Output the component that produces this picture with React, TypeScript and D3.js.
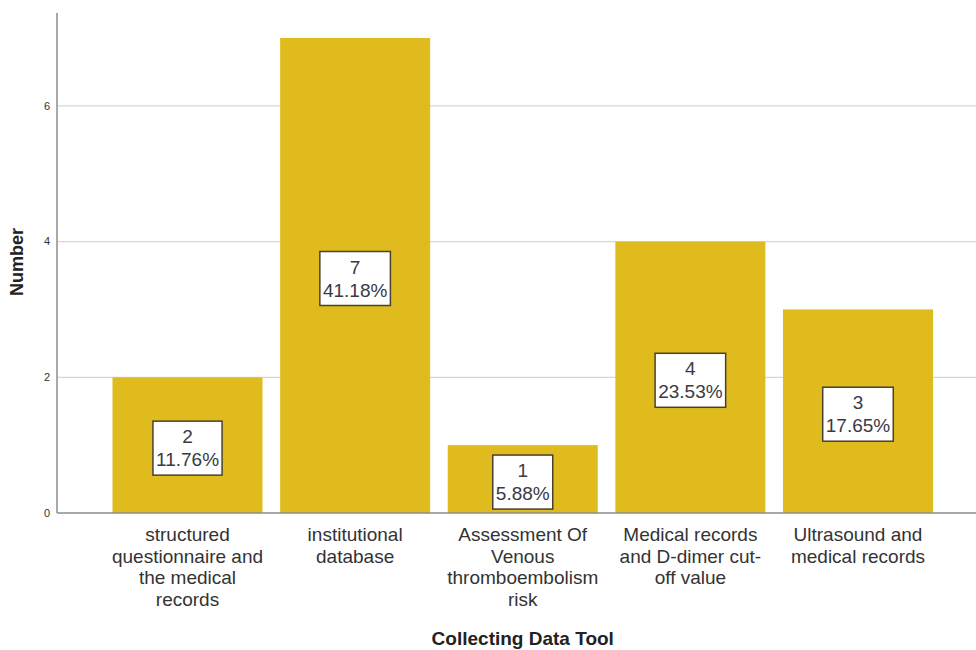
import React, { useEffect, useRef } from "react";
import * as d3 from "d3";

// Category labels (line breaks as they wrap under each bar)
const categories: string[] = [
  "structured\nquestionnaire and\nthe medical\nrecords",
  "institutional\ndatabase",
  "Assessment Of\nVenous\nthromboembolism\nrisk",
  "Medical records\nand D-dimer cut-\noff value",
  "Ultrasound and\nmedical records",
];
const counts: number[] = [2, 7, 1, 4, 3];
const yTicks: number[] = [0, 2, 4, 6];
const xTitle = "Collecting Data Tool";
const yTitle = "Number";

const W = 976;
const H = 650;
const BAR = "#e0bb1e";
const FONT = "Arial, 'Liberation Sans', sans-serif";

export default function App() {
  const ref = useRef<SVGSVGElement | null>(null);

  useEffect(() => {
    const svg = d3.select(ref.current);
    svg.selectAll("*").remove();

    const axisX = 57;
    const x = d3
      .scaleBand<number>()
      .domain(d3.range(categories.length))
      .range([103.7, 941.8])
      .paddingInner(0.105)
      .paddingOuter(0.0525);
    const y = d3.scaleLinear().domain([0, 7]).range([513, 38]);
    const total = d3.sum(counts);

    // gridlines
    svg
      .append("g")
      .selectAll("line")
      .data(yTicks.filter((t) => t > 0))
      .join("line")
      .attr("x1", axisX)
      .attr("x2", W)
      .attr("y1", (d) => y(d))
      .attr("y2", (d) => y(d))
      .attr("stroke", "#d6d6d6")
      .attr("stroke-width", 1.3);

    // bars
    svg
      .append("g")
      .selectAll("rect")
      .data(counts)
      .join("rect")
      .attr("x", (_, i) => x(i)!)
      .attr("width", x.bandwidth())
      .attr("y", (d) => y(d))
      .attr("height", (d) => y(0) - y(d))
      .attr("fill", BAR);

    // axes lines
    svg
      .append("line")
      .attr("x1", axisX)
      .attr("x2", W)
      .attr("y1", y(0))
      .attr("y2", y(0))
      .attr("stroke", "#8c8c8c")
      .attr("stroke-width", 1.5);
    svg
      .append("line")
      .attr("x1", axisX)
      .attr("x2", axisX)
      .attr("y1", 13)
      .attr("y2", y(0))
      .attr("stroke", "#8c8c8c")
      .attr("stroke-width", 1.5);

    // y tick labels
    svg
      .append("g")
      .selectAll("text")
      .data(yTicks)
      .join("text")
      .attr("x", 50)
      .attr("y", (d) => y(d))
      .attr("dy", "0.35em")
      .attr("text-anchor", "end")
      .attr("font-family", FONT)
      .attr("font-size", 11)
      .attr("fill", "#333")
      .text((d) => d);

    // value labels in boxes
    const lab = svg
      .append("g")
      .selectAll("g")
      .data(counts)
      .join("g")
      .attr(
        "transform",
        (d, i) => `translate(${x(i)! + x.bandwidth() / 2},${(y(d) + y(0)) / 2 + 3})`
      );
    const rects = lab
      .append("rect")
      .attr("fill", "#ffffff")
      .attr("stroke", "#4a4030")
      .attr("stroke-width", 1.5);
    const txt = lab
      .append("text")
      .attr("text-anchor", "middle")
      .attr("font-family", FONT)
      .attr("font-size", 19)
      .attr("fill", "#3a3a44");
    txt
      .append("tspan")
      .attr("x", 0)
      .attr("y", -5)
      .text((d) => String(d));
    txt
      .append("tspan")
      .attr("x", 0)
      .attr("y", 18)
      .text((d) => ((d / total) * 100).toFixed(2) + "%");
    txt.each(function (_, i) {
      const bb = (this as SVGTextElement).getBBox();
      const w = bb.width + 6;
      d3.select(rects.nodes()[i])
        .attr("x", -w / 2)
        .attr("width", w)
        .attr("y", -27)
        .attr("height", 54);
    });

    // category labels
    const cat = svg
      .append("g")
      .selectAll("text")
      .data(categories)
      .join("text")
      .attr("text-anchor", "middle")
      .attr("font-family", FONT)
      .attr("font-size", 19)
      .attr("fill", "#333");
    cat
      .selectAll("tspan")
      .data((d, i) => d.split("\n").map((s) => ({ s, i })))
      .join("tspan")
      .attr("x", (d) => x(d.i)! + x.bandwidth() / 2)
      .attr("y", (_, j) => 541 + j * 21.5)
      .text((d) => d.s);

    // axis titles
    svg
      .append("text")
      .attr("x", (103.7 + 941.8) / 2)
      .attr("y", 645)
      .attr("text-anchor", "middle")
      .attr("font-family", FONT)
      .attr("font-size", 19)
      .attr("font-weight", "bold")
      .attr("fill", "#222")
      .text(xTitle);
    svg
      .append("text")
      .attr("transform", `translate(23,262) rotate(-90)`)
      .attr("text-anchor", "middle")
      .attr("font-family", FONT)
      .attr("font-size", 18)
      .attr("font-weight", "bold")
      .attr("fill", "#222")
      .text(yTitle);
  }, []);

  return (
    <svg
      ref={ref}
      width={W}
      height={H}
      style={{ position: "absolute", left: 0, top: 0, background: "#fff" }}
    />
  );
}
